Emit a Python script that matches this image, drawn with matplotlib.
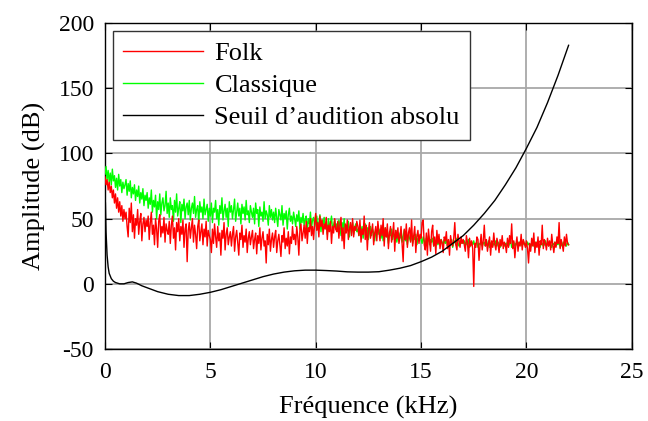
import numpy as np
import matplotlib
matplotlib.use('Agg')
import matplotlib.pyplot as plt

# --- Data ---
# Spectra sampled every 0.05 kHz from 0 to 22 kHz (one row = 1 kHz)
freq_khz = np.linspace(0.0, 22.0, 441)

folk_db = [
    82, 76, 80, 72, 78, 70, 75, 66, 72, 62, 69, 58, 66, 55, 63, 52, 60, 48, 57, 50,
    55, 44, 36, 58, 47, 62, 40, 53, 35, 50, 45, 57, 38, 48, 54, 33, 46, 51, 40, 49,
    44, 52, 34, 47, 55, 38, 45, 30, 50, 42, 28, 48, 53, 36, 44, 39, 51, 32, 46, 41,
    38, 48, 31, 45, 52, 35, 43, 26, 47, 40, 50, 33, 44, 38, 49, 28, 42, 46, 17, 41,
    47, 35, 43, 50, 32, 45, 38, 27, 44, 49, 33, 40, 46, 30, 42, 36, 48, 29, 41, 37,
    34, 24, 42, 31, 46, 36, 28, 44, 33, 39, 22, 41, 35, 47, 26, 38, 43, 30, 36, 40,
    29, 38, 44, 25, 36, 41, 31, 22, 39, 34, 45, 28, 37, 32, 42, 24, 35, 40, 30, 36,
    41, 27, 34, 39, 23, 37, 31, 43, 26, 35, 40, 29, 33, 16, 38, 30, 42, 25, 34, 39,
    28, 36, 41, 24, 33, 38, 30, 21, 37, 32, 43, 27, 35, 29, 40, 23, 36, 31, 44, 34,
    38, 30, 44, 36, 22, 41, 46, 33, 39, 45, 35, 48, 31, 43, 40, 50, 37, 44, 34, 47,
    54, 41, 47, 36, 52, 44, 49, 38, 46, 42, 51, 34, 45, 40, 48, 31, 44, 39, 50, 42,
    40, 48, 35, 45, 51, 33, 43, 27, 46, 39, 49, 34, 42, 47, 37, 50, 36, 44, 41, 48,
    44, 37, 49, 32, 42, 38, 52, 34, 45, 26, 41, 47, 35, 40, 46, 30, 39, 44, 33, 48,
    40, 33, 45, 37, 50, 29, 43, 36, 46, 27, 39, 44, 32, 38, 47, 25, 41, 35, 43, 31,
    36, 44, 30, 17, 42, 34, 46, 28, 39, 43, 32, 49, 29, 37, 44, 24, 36, 41, 31, 38,
    35, 47, 49, 30, 26, 39, 22, 42, 33, 25, 40, 45, 29, 36, 23, 41, 31, 38, 27, 34,
    31, 24, 36, 33, 40, 27, 34, 22, 37, 31, 29, 35, 47, 30, 26, 38, 33, 28, 36, 31,
    34, 30, 25, 37, 32, 20, 35, 29, 33, 27, -2, 31, 28, 36, 34, 18, 30, 38, 26, 33,
    45, 29, 34, 25, 31, 36, 22, 33, 28, 39, 30, 26, 35, 31, 24, 34, 29, 37, 27, 32,
    30, 24, 35, 28, 37, 31, 46, 27, 33, 20, 30, 36, 25, 32, 29, 38, 26, 34, 31, 28,
    33, 27, 16, 31, 25, 35, 29, 39, 24, 32, 28, 36, 22, 33, 30, 45, 27, 34, 31, 26,
    35, 29, 33, 26, 38, 30, 24, 32, 28, 36, 31, 47, 27, 34, 30, 25, 36, 29, 38, 31,
    30,
]

classique_db = [
    84, 90, 80, 87, 78, 85, 76, 88, 79, 83, 74, 81, 72, 84, 75, 80, 70, 78, 73, 76,
    80, 68, 77, 71, 79, 66, 74, 69, 76, 64, 72, 67, 75, 62, 70, 65, 73, 60, 68, 64,
    70, 58, 66, 61, 72, 55, 64, 59, 68, 50, 63, 57, 69, 53, 62, 66, 56, 60, 71, 54,
    62, 51, 66, 57, 60, 48, 64, 55, 69, 52, 58, 63, 47, 61, 56, 65, 50, 59, 62, 53,
    64, 49, 58, 62, 54, 67, 51, 57, 60, 46, 63, 55, 59, 50, 65, 53, 57, 61, 48, 58,
    52, 62, 47, 58, 55, 64, 50, 57, 45, 60, 54, 66, 49, 56, 61, 51, 58, 44, 63, 55,
    60, 50, 57, 65, 48, 55, 62, 52, 58, 46, 61, 54, 59, 49, 64, 53, 56, 47, 60, 55,
    51, 58, 46, 62, 54, 57, 44, 59, 52, 55, 48, 63, 50, 56, 53, 45, 60, 51, 57, 49,
    55, 47, 58, 51, 44, 57, 53, 49, 60, 45, 54, 50, 56, 42, 53, 58, 48, 52, 46, 55,
    50, 44, 53, 48, 56, 42, 51, 47, 54, 45, 49, 52, 40, 50, 46, 55, 43, 49, 51, 44,
    48, 52, 42, 47, 53, 40, 49, 45, 51, 43, 47, 38, 50, 44, 46, 52, 41, 45, 49, 42,
    46, 40, 49, 44, 37, 47, 42, 50, 39, 45, 43, 48, 36, 44, 41, 47, 38, 43, 46, 40,
    42, 37, 45, 40, 44, 35, 41, 46, 38, 43, 34, 40, 44, 37, 42, 39, 33, 41, 38, 43,
    38, 42, 35, 40, 33, 39, 43, 36, 38, 31, 40, 37, 42, 34, 38, 36, 41, 32, 37, 39,
    35, 39, 32, 37, 41, 33, 36, 30, 38, 35, 33, 39, 31, 36, 34, 38, 30, 35, 33, 37,
    34, 31, 36, 33, 29, 35, 32, 37, 30, 34, 32, 35, 29, 33, 31, 36, 30, 33, 32, 34,
    32, 30, 34, 31, 35, 29, 33, 31, 30, 34, 28, 32, 33, 30, 35, 31, 29, 33, 31, 32,
    31, 33, 29, 32, 30, 34, 28, 31, 32, 30, 33, 29, 31, 32, 28, 31, 30, 33, 29, 31,
    32, 29, 31, 30, 33, 28, 31, 32, 29, 31, 30, 33, 29, 32, 30, 28, 31, 32, 30, 29,
    31, 30, 32, 29, 31, 33, 28, 30, 32, 29, 31, 30, 28, 32, 30, 31, 29, 33, 30, 31,
    29, 32, 30, 31, 28, 31, 33, 29, 30, 32, 29, 31, 30, 28, 32, 31, 29, 30, 33, 30,
    31, 29, 32, 30, 28, 31, 30, 32, 29, 31, 30, 33, 28, 31, 29, 32, 30, 31, 29, 32,
    30,
]

seuil_khz = [0.02, 0.05, 0.1, 0.15, 0.2, 0.3, 0.4, 0.5, 0.7, 0.9, 1.1, 1.3, 1.5,
             1.75, 2.0, 2.5, 3.0, 3.5, 4.0, 4.5, 5.0, 5.5, 6.0, 6.5, 7.0, 7.5,
             8.0, 8.5, 9.0, 9.5, 10.0, 10.5, 11.0, 11.5, 12.0, 12.5, 13.0, 13.5,
             14.0, 14.5, 15.0, 15.5, 16.0, 16.5, 17.0, 17.5, 18.0, 18.5, 19.0,
             19.5, 20.0, 20.5, 21.0, 21.5, 22.0]
seuil_db = [62, 40, 22, 13, 8, 4, 2, 1, 0, 0, 1, 1.5, 0.5,
            -1.5, -3, -6, -8, -9, -9, -8, -6.5, -4.5, -2, 0.5, 3, 5.5,
            7.5, 9, 10, 10.5, 10.5, 10.2, 9.8, 9.2, 9, 9, 9.3, 10.5,
            12, 14, 17, 20.5, 25, 31, 37, 45, 54, 64, 76,
            89, 104, 120, 139, 160, 183]

x_ticks = [0, 5, 10, 15, 20, 25]
y_ticks = [-50, 0, 50, 100, 150, 200]

# --- Style ---
plt.rcParams['font.family'] = ['Liberation Serif', 'DejaVu Serif']
plt.rcParams['axes.unicode_minus'] = False

fig, ax = plt.subplots(figsize=(6.48, 4.21), dpi=100)
fig.subplots_adjust(left=0.162, right=0.975, top=0.945, bottom=0.171)

ax.plot(freq_khz, folk_db, color='#ff0000', linewidth=1.0, label='Folk', zorder=4)
ax.plot(freq_khz, classique_db, color='#00ff00', linewidth=1.0, label='Classique', zorder=3)
ax.plot(seuil_khz, seuil_db, color='black', linewidth=1.0, label="Seuil d\u2019audition absolu", zorder=5)

ax.set_xlim(0, 25)
ax.set_ylim(-50, 200)
ax.set_xticks(x_ticks)
ax.set_yticks(y_ticks)
ax.grid(True, color='#a8a8a8', linewidth=1.3)
ax.set_axisbelow(True)
ax.tick_params(direction='in', top=True, right=True, length=5, labelsize=17)
ax.tick_params(axis='x', pad=9)
ax.tick_params(axis='y', pad=8)
for s in ax.spines.values():
    s.set_linewidth(1.0)

ax.set_xlabel('Fréquence (kHz)', fontsize=19, labelpad=10)
ax.set_ylabel('Amplitude (dB)', fontsize=19, labelpad=9)

leg = ax.legend(loc='upper left', fontsize=19, frameon=True, fancybox=False,
                edgecolor='#333333', framealpha=1.0, handlelength=3.0,
                handletextpad=0.45, borderaxespad=0.3, labelspacing=0.33,
                borderpad=0.4)
leg.get_frame().set_linewidth(1.0)

plt.savefig('out.png', dpi=100)
